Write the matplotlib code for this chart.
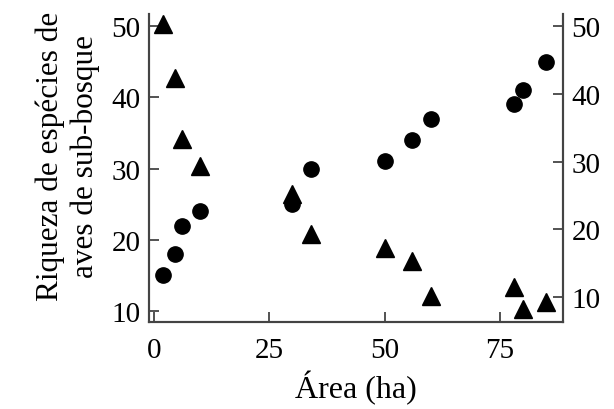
import matplotlib.pyplot as plt

# area (ha) and species richness
area_circ = [2, 4.5, 6, 10, 30, 34, 50, 56, 60, 78, 80, 85]
rich_circ = [15, 18, 22, 24, 25, 30, 31, 34, 37, 39, 41, 45]

area_tri = [2, 4.5, 6, 10, 30, 34, 50, 56, 60, 78, 80, 85]
rich_tri = [50.3, 42.4, 33.3, 29.4, 25.2, 19.3, 17.3, 15.3, 10.2, 11.4, 8.2, 9.3]

plt.rcParams['font.family'] = ['Liberation Serif', 'DejaVu Serif']

fig = plt.figure(figsize=(6.14, 4.10), dpi=100)
ax = fig.add_axes([0.2427, 0.2122, 0.6743, 0.7512])
ax2 = ax.twinx()

ax.plot(area_circ, rich_circ, 'o', color='black', ms=11)
ax2.plot(area_tri, rich_tri, '^', color='black', ms=13)

ax.set_xlim(-1.1, 88.7)
ax.set_ylim(8.46, 51.7)
ax2.set_ylim(6.3, 51.8)

ax.set_xticks([0, 25, 50, 75])
ax.set_yticks([10, 20, 30, 40, 50])
ax2.set_yticks([10, 20, 30, 40, 50])

for a in (ax, ax2):
    a.spines['top'].set_visible(False)
    for s in a.spines.values():
        s.set_color('#444444')
        s.set_linewidth(1.5)
    a.tick_params(direction='in', length=7, width=1.3, color='#444444',
                  labelsize=21, pad=6)
ax.tick_params(axis='x', pad=11)

ax.set_xlabel('Área (ha)', fontsize=23, labelpad=5)
ax.set_ylabel('Riqueza de espécies de\naves de sub-bosque', fontsize=22.5,
              linespacing=1.25)
ax.yaxis.set_label_coords(-0.118, 0.54)

fig.savefig('out.png', dpi=100)
